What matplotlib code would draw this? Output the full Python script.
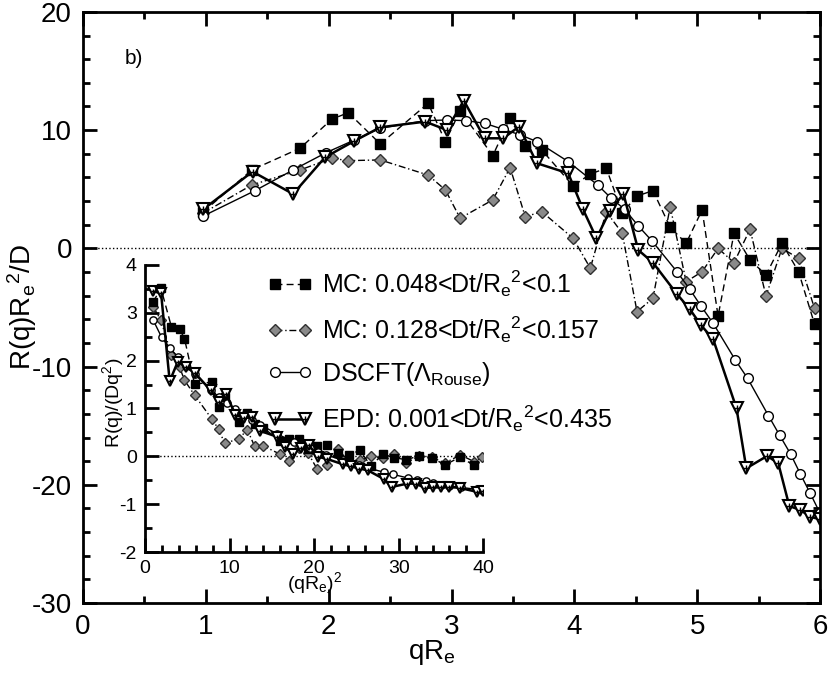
import matplotlib
matplotlib.use("Agg")
import matplotlib.pyplot as plt
from matplotlib.ticker import MultipleLocator
from matplotlib.legend_handler import HandlerTuple

plt.rcParams['font.family'] = ['Liberation Sans', 'DejaVu Sans']
plt.rcParams['mathtext.fontset'] = 'custom'
plt.rcParams['mathtext.rm'] = 'Liberation Sans'
plt.rcParams['mathtext.it'] = 'Liberation Sans'
plt.rcParams['mathtext.bf'] = 'Liberation Sans:bold'
plt.rcParams['axes.unicode_minus'] = False

# main panel: R(q) Re^2 / D versus qRe
q_mc1 = [0.98, 1.374, 1.767, 2.025, 2.16, 2.42, 2.81, 2.95, 3.07, 3.336, 3.477, 3.6, 3.735,
         3.99, 4.13, 4.26, 4.39, 4.51, 4.64, 4.78, 4.91, 5.04, 5.17, 5.30, 5.43, 5.56, 5.69,
         5.825, 5.955]
r_mc1 = [3.1, 6.63, 8.47, 10.92, 11.48, 8.83, 12.27, 9.03, 11.65, 7.85, 11.0, 8.66, 8.32,
         5.28, 6.29, 6.78, 3.02, 4.43, 4.88, 1.78, 0.43, 3.25, -5.72, 1.28, -0.98, -2.25, 0.43,
         -1.97, -6.4]

q_mc2 = q_mc1
r_mc2 = [3.0, 5.36, 6.63, 7.62, 7.42, 7.48, 6.2, 4.94, 2.55, 4.1, 6.83, 2.68, 3.1,
         0.85, -1.68, 3.1, 1.28, -5.35, -4.22, 3.53, -2.82, -1.97, 0.0, -1.21, 1.62, -4.03, 0.0,
         -0.84, -5.07]

q_ds = [0.98, 1.40, 1.71, 1.98, 2.21, 2.42, 2.785, 2.96, 3.12, 3.27, 3.42, 3.56, 3.695, 3.95,
        4.19, 4.30, 4.41, 4.52, 4.63, 4.835, 4.94, 5.03, 5.13, 5.31, 5.41, 5.58, 5.67, 5.76,
        5.84, 5.92, 6.0]
r_ds = [2.74, 4.88, 6.63, 8.1, 9.17, 10.16, 10.8, 10.86, 10.8, 10.58, 10.07, 9.6, 9.03, 7.34,
        5.36, 4.24, 3.3, 1.9, 0.65, -1.97, -3.46, -4.87, -6.34, -9.44, -10.99, -14.15, -15.79,
        -17.39, -19.09, -20.72, -22.4]

q_epd = [0.98, 1.38, 1.71, 1.97, 2.21, 2.42, 2.785, 2.96, 3.10, 3.27, 3.42, 3.55, 3.695, 3.95,
         4.07, 4.18, 4.29, 4.40, 4.52, 4.64, 4.835, 4.94, 5.03, 5.13, 5.32, 5.40, 5.57, 5.66,
         5.75, 5.84, 5.92, 6.0]
r_epd = [3.31, 6.49, 4.6, 7.7, 9.09, 10.24, 10.72, 10.02, 12.5, 9.31, 9.31, 10.3, 7.2, 6.35,
         3.31, 0.85, 3.19, 4.6, -0.14, -1.21, -3.86, -5.15, -6.48, -7.69, -13.53, -18.6, -17.56,
         -18.18, -21.8, -22.13, -22.7, -22.92]

# inset: R(q)/(D q^2) versus (qRe)^2
x2_mc1 = [0.96, 1.89, 3.12, 4.10, 4.67, 5.86, 7.90, 8.70, 9.42, 11.13, 12.09, 12.96, 13.95,
          15.92, 17.06, 18.15, 19.27, 20.34, 21.53, 22.85, 24.11, 25.40, 26.73, 28.09, 29.48,
          30.91, 32.38, 33.93, 35.46, 37.2, 38.9]
y2_mc1 = [3.23, 3.51, 2.71, 2.66, 2.46, 1.51, 1.55, 1.04, 1.24, 0.71, 0.91, 0.67, 0.60,
          0.33, 0.37, 0.37, 0.16, 0.22, 0.23, 0.08, 0.02, 0.13, -0.21, 0.05, -0.03,
          -0.07, 0.01, -0.03, -0.18, -0.02, -0.18]

x2_mc2 = [0.96, 1.89, 3.12, 4.10, 4.67, 5.86, 7.90, 8.70, 9.42, 11.13, 12.09, 12.96, 13.95,
          15.92, 17.06, 18.15, 19.27, 20.34, 21.53, 22.85, 24.11, 25.40, 26.73, 28.09, 29.48,
          30.91, 32.38, 33.93, 35.46, 37.3, 38.9, 39.9]
y2_mc2 = [3.13, 2.84, 2.12, 1.86, 1.59, 1.28, 0.78, 0.57, 0.27, 0.37, 0.56, 0.21, 0.22,
          0.05, -0.10, 0.17, 0.07, -0.26, -0.18, 0.15, -0.12, -0.08, 0.0, -0.04, 0.05,
          -0.13, 0.0, -0.02, -0.14, 0.03, -0.11, -0.02]

x2_ds = [0.96, 1.96, 2.92, 3.92, 4.88, 5.86, 7.76, 8.76, 9.73, 10.69, 11.70, 12.67, 13.65,
         15.60, 17.56, 18.49, 19.45, 20.43, 21.44, 23.38, 24.40, 25.30, 26.32, 28.20, 29.27,
         31.14, 32.15, 33.18, 34.11, 35.05, 36.0, 37.4, 39.2, 40.0]
y2_ds = [2.85, 2.49, 2.27, 2.07, 1.88, 1.73, 1.39, 1.24, 1.11, 0.99, 0.86, 0.76, 0.66,
         0.47, 0.305, 0.23, 0.17, 0.09, 0.03, -0.084, -0.14, -0.19, -0.24, -0.33, -0.375,
         -0.455, -0.49, -0.52, -0.56, -0.59, -0.62, -0.65, -0.69, -0.73]

x2_epd = [0.96, 1.90, 2.92, 3.88, 4.88, 5.86, 7.76, 8.76, 9.61, 10.69, 11.70, 12.60, 13.65,
          15.60, 16.56, 17.47, 18.40, 19.36, 20.43, 21.53, 23.38, 24.40, 25.30, 26.32, 28.30,
          29.16, 31.02, 32.04, 33.06, 34.11, 35.05, 36.0, 37.2, 39.2, 40.0]
y2_epd = [3.45, 3.41, 1.57, 1.98, 1.86, 1.75, 1.38, 1.14, 1.30, 0.87, 0.80, 0.82, 0.53,
          0.41, 0.20, 0.05, 0.17, 0.24, -0.007, -0.056, -0.165, -0.21, -0.256, -0.29, -0.48,
          -0.64, -0.57, -0.57, -0.66, -0.65, -0.65, -0.64, -0.66, -0.74, -0.72]

labels = [r'MC: 0.048<Dt/R$_e{}^2$<0.1',
          r'MC: 0.128<Dt/R$_e{}^2$<0.157',
          r'DSCFT($\Lambda_{Rouse}$)',
          r'EPD: 0.001<Dt/R$_e{}^2$<0.435']

gray = '#8a8a8a'


def draw(ax, xs, ys, big):
    k = 1.0 if big else 0.75
    ax.plot(xs[1], ys[1], ls=(0, (5, 2, 1, 2)), lw=1, color='black', marker='D',
            ms=6.5 * k, mfc=gray, mec='#303030', mew=1)
    ax.plot(xs[0], ys[0], ls=(0, (5, 3)), lw=1, color='black', marker='s',
            ms=7.5 * k, mfc='black', mec='black')
    ax.plot(xs[2], ys[2], ls='-', lw=1, color='black', marker='o',
            ms=7 * k, mfc='white', mec='black', mew=1)
    ax.plot(xs[3], ys[3], ls='-', lw=1.8, color='black', marker='v',
            ms=9 * k, mfc='white', mec='black', mew=1.5)
    ax.plot(xs[3], ys[3], ls='none', marker='+', ms=4 * k, mew=1, color='black')


fig = plt.figure(figsize=(8.3, 6.81), dpi=100)
ax = fig.add_axes([0.1, 0.1145, 0.888, 0.868])

draw(ax, [q_mc1, q_mc2, q_ds, q_epd], [r_mc1, r_mc2, r_ds, r_epd], True)
ax.axhline(0, ls=':', lw=1, color='black', zorder=0)

ax.set_xlim(0, 6)
ax.set_ylim(-30, 20)
ax.xaxis.set_major_locator(MultipleLocator(1))
ax.xaxis.set_minor_locator(MultipleLocator(0.5))
ax.yaxis.set_major_locator(MultipleLocator(10))
ax.yaxis.set_minor_locator(MultipleLocator(2))
ax.tick_params(which='both', direction='in', top=True, right=True, width=2)
ax.tick_params(which='major', length=10, labelsize=20, pad=8)
ax.tick_params(which='minor', length=5)
for s in ax.spines.values():
    s.set_linewidth(2)
ax.set_xlabel(r'qR$_e$', fontsize=20)
ax.set_ylabel(r'R(q)R$_e{}^2$/D', fontsize=20)
ax.xaxis.set_label_coords(0.474, -0.06)
ax.yaxis.set_label_coords(-0.06, 0.5)
ax.text(0.057, 0.922, 'b)', transform=ax.transAxes, fontsize=15, va='center')

# inset
axi = fig.add_axes([0.1747, 0.1894, 0.4076, 0.4215], facecolor='none')
draw(axi, [x2_mc1, x2_mc2, x2_ds, x2_epd], [y2_mc1, y2_mc2, y2_ds, y2_epd], False)
axi.axhline(0, ls=':', lw=1, color='black', zorder=0)
axi.set_xlim(0, 40)
axi.set_ylim(-2, 4)
axi.xaxis.set_major_locator(MultipleLocator(10))
axi.xaxis.set_minor_locator(MultipleLocator(2))
axi.yaxis.set_major_locator(MultipleLocator(1))
axi.yaxis.set_minor_locator(MultipleLocator(0.5))
axi.spines['top'].set_visible(False)
axi.spines['right'].set_visible(False)
for s in ('left', 'bottom'):
    axi.spines[s].set_linewidth(2)
axi.tick_params(which='both', direction='in', width=2)
axi.tick_params(which='major', length=10, labelsize=14, pad=6)
axi.tick_params(which='minor', length=5)
axi.set_xlabel(r'(qR$_e$)$^2$', fontsize=14)
axi.set_ylabel(r'R(q)/(Dq$^2$)', fontsize=14)
axi.xaxis.set_label_coords(0.5, -0.062)
axi.yaxis.set_label_coords(-0.055, 0.52)

# legend with marker-line-marker handles
h = ax.get_lines()
handles = [h[1], h[0], h[2], (h[3], h[4])]
ax.legend(handles, labels, loc='upper left', bbox_to_anchor=(267 / 830, 1 - 268 / 681),
          bbox_transform=fig.transFigure, frameon=False, fontsize=18, numpoints=2,
          handlelength=1.8, handletextpad=0.4, labelspacing=0.62, borderpad=0,
          borderaxespad=0, handler_map={tuple: HandlerTuple(ndivide=1)})

fig.savefig('out.png', dpi=100)
